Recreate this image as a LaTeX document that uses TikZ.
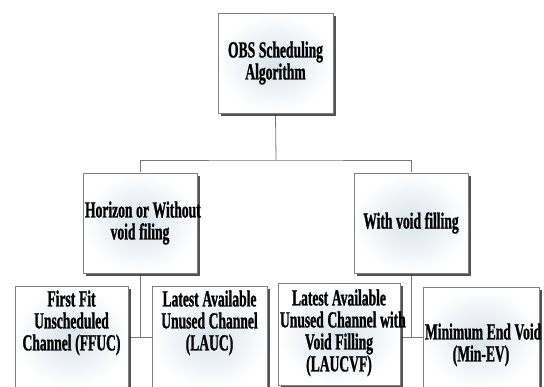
\documentclass[tikz,border=0pt]{standalone}
\usepackage{fontspec}
\usepackage{tikz}
\usetikzlibrary{shadows,backgrounds}

\newfontfamily\boxfont{Liberation Serif Bold}[FakeStretch=0.59, FakeBold=1]

\definecolor{boxline}{RGB}{128,128,128}
\definecolor{boxshade}{RGB}{218,227,236}
\definecolor{connline}{RGB}{120,120,120}

\begin{document}
\begin{tikzpicture}[x=1pt, y=-1pt,
		box/.style={draw=boxline, line width=0.8pt, shading=radial, inner color=boxshade, outer color=white,
			drop shadow={shadow xshift=3pt, shadow yshift=-3pt, fill=black!80, opacity=0.85},
			font=\boxfont\fontsize{23}{22}\selectfont\hyphenpenalty10000\relax,
			align=center, inner xsep=2pt,
			execute at begin node={\spaceskip0.16em\relax}},
		midbox/.style={box, minimum height=100pt},
		leafbox/.style 2 args={box, anchor=north, inner ysep=0pt, text height=#1, text depth=#2},
		conn/.style={draw=connline, line width=0.8pt}]
		\path[use as bounding box] (0,0) rectangle (544,387);
		\clip (0,0) rectangle (544,387);

		% root and the two families
		\node[midbox, text width=111pt] (obs) at (275.5,63) {OBS Scheduling\\Algorithm};
		\node[midbox, text width=110pt] (horizon) at (140,223) {\mbox{Horizon or Without}\\void filing};
		\node[midbox, text width=110pt] (withvoid) at (411,223) {With void filling};

		% the four schedulers
		\node[leafbox={20pt}{82pt}, text width=109pt] (ffuc) at (71.5,286) {First Fit\\Unscheduled\\Channel (FFUC)};
		\node[leafbox={20pt}{82pt}, text width=111pt] (lauc) at (209.5,286) {Latest Available\\Unused Channel\\(LAUC)};
		\node[leafbox={22pt}{80pt}, text width=118pt] (laucvf) at (339,283) {Latest Available\\\mbox{Unused Channel with}\\Void Filling\\(LAUCVF)};
		\node[leafbox={52pt}{50pt}, text width=112pt] (minev) at (481,287) {\mbox{Minimum End Void}\\(Min-EV)};

		\coordinate (fork) at (276,160);
		\coordinate (ljoin) at (140,337);
		\coordinate (rjoin) at (411,337);

		\begin{scope}[on background layer]
			\draw[conn] (obs.south) -- (fork);
			\draw[conn] (horizon.north) |- (fork) -| (withvoid.north);
			\draw[conn] (horizon.south) -- (ljoin);
			\draw[conn] (ffuc.east |- ljoin) -- (lauc.west |- ljoin);
			\draw[conn] (withvoid.south) -- (rjoin);
			\draw[conn] (laucvf.east |- rjoin) -- (minev.west |- rjoin);
		\end{scope}
	\end{tikzpicture}
\end{document}
